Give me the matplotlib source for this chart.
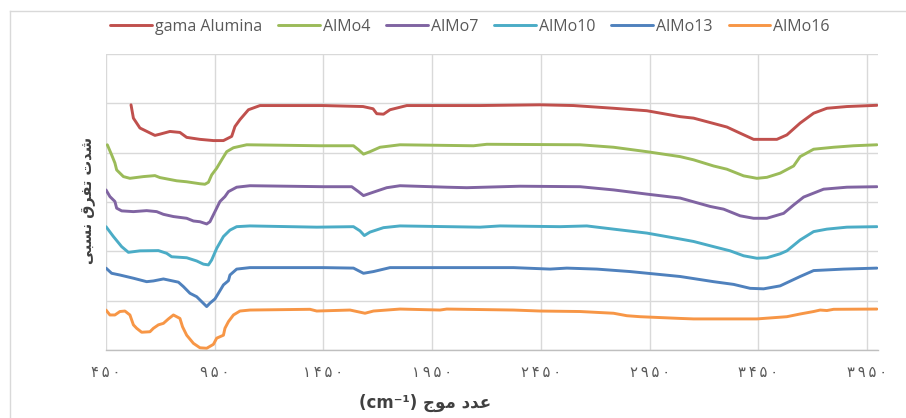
import matplotlib
matplotlib.use("Agg")
import matplotlib.pyplot as plt
from matplotlib.lines import Line2D

# ---------------- data ----------------
series_names = ["gama Alumina", "AlMo4", "AlMo7", "AlMo10", "AlMo13", "AlMo16"]
series_colors = ["#C0504D", "#9BBB59", "#8064A2", "#4BACC6", "#4F81BD", "#F79646"]

wn_gama = [565, 576, 606, 652, 675, 698, 744, 790, 821, 882, 944, 990, 1028, 1043, 1066, 1105, 1158,
           1448, 1632, 1678, 1695, 1726, 1756, 1833, 2170, 2446, 2600, 2784, 2937, 3090, 3152, 3305,
           3366, 3428, 3535, 3581, 3642, 3704, 3765, 3857, 3995]
val_gama = [4.97, 4.70, 4.50, 4.40, 4.35, 4.375, 4.43, 4.41, 4.31, 4.27, 4.245, 4.245, 4.33, 4.53, 4.67,
            4.87, 4.955, 4.955, 4.935, 4.89, 4.79, 4.78, 4.87, 4.955, 4.955, 4.97, 4.955, 4.90, 4.85,
            4.73, 4.70, 4.52, 4.395, 4.27, 4.27, 4.36, 4.60, 4.80, 4.90, 4.935, 4.96]

wn_almo4 = [456, 476, 491, 499, 530, 560, 622, 675, 698, 775, 821, 882, 905, 921, 936, 959, 982, 1005,
            1036, 1097, 1434, 1588, 1611, 1634, 1664, 1710, 1802, 2140, 2201, 2630, 2784, 2937, 3090,
            3152, 3244, 3305, 3382, 3443, 3489, 3550, 3612, 3642, 3704, 3796, 3888, 3995]
val_almo4 = [4.16, 3.955, 3.79, 3.65, 3.515, 3.48, 3.515, 3.535, 3.495, 3.43, 3.41, 3.37, 3.36, 3.40,
             3.55, 3.685, 3.855, 4.02, 4.10, 4.16, 4.14, 4.14, 4.06, 3.97, 4.02, 4.11, 4.16, 4.14, 4.17,
             4.16, 4.11, 4.02, 3.92, 3.855, 3.73, 3.665, 3.53, 3.48, 3.50, 3.585, 3.73, 3.92, 4.07,
             4.11, 4.14, 4.16]

wn_almo7 = [450, 468, 491, 499, 522, 576, 637, 683, 714, 760, 821, 852, 882, 913, 928, 951, 974, 997,
            1013, 1051, 1112, 1450, 1580, 1611, 1634, 1680, 1741, 1802, 2017, 2109, 2354, 2630, 2784,
            2937, 3090, 3228, 3290, 3366, 3428, 3489, 3566, 3612, 3658, 3750, 3857, 3995]
val_almo7 = [3.245, 3.11, 3.01, 2.875, 2.82, 2.805, 2.825, 2.805, 2.75, 2.705, 2.67, 2.615, 2.60, 2.555,
             2.60, 2.805, 3.01, 3.11, 3.21, 3.30, 3.33, 3.31, 3.31, 3.21, 3.13, 3.20, 3.29, 3.33, 3.30,
             3.29, 3.32, 3.31, 3.245, 3.16, 3.08, 2.91, 2.855, 2.72, 2.67, 2.67, 2.77, 2.94, 3.10, 3.26,
             3.30, 3.31]

wn_almo10 = [450, 484, 522, 553, 606, 691, 729, 752, 821, 867, 898, 921, 936, 959, 990, 1020, 1051,
             1112, 1419, 1588, 1618, 1638, 1664, 1726, 1802, 2170, 2262, 2538, 2661, 2784, 2937, 3090,
             3152, 3244, 3320, 3382, 3443, 3489, 3550, 3581, 3642, 3704, 3765, 3857, 3995]
val_almo10 = [2.50, 2.30, 2.095, 1.98, 2.01, 2.015, 1.96, 1.89, 1.87, 1.805, 1.74, 1.725, 1.825, 2.06,
              2.30, 2.43, 2.50, 2.515, 2.49, 2.50, 2.415, 2.32, 2.39, 2.48, 2.515, 2.49, 2.515, 2.50,
              2.515, 2.45, 2.37, 2.25, 2.20, 2.095, 2.01, 1.91, 1.86, 1.87, 1.95, 2.01, 2.23, 2.40, 2.45,
              2.49, 2.50]

wn_almo13 = [450, 476, 514, 576, 637, 668, 714, 783, 806, 836, 867, 890, 913, 928, 951, 967, 990, 1013,
             1020, 1051, 1112, 1450, 1588, 1634, 1680, 1756, 2324, 2492, 2569, 2707, 2860, 3090, 3244,
             3336, 3412, 3474, 3550, 3642, 3704, 3842, 3995]
val_almo13 = [1.66, 1.555, 1.52, 1.455, 1.385, 1.40, 1.44, 1.375, 1.285, 1.15, 1.08, 0.98, 0.88, 0.95,
              1.035, 1.15, 1.32, 1.405, 1.52, 1.64, 1.67, 1.67, 1.66, 1.555, 1.59, 1.67, 1.67, 1.64,
              1.66, 1.64, 1.59, 1.49, 1.385, 1.33, 1.25, 1.24, 1.30, 1.49, 1.61, 1.64, 1.66]

wn_almo16 = [450, 468, 491, 514, 537, 560, 576, 591, 614, 652, 668, 691, 714, 737, 760, 790, 802, 821,
             852, 882, 913, 944, 959, 990, 997, 1013, 1036, 1066, 1112, 1388, 1419, 1572, 1641, 1680,
             1802, 1986, 2017, 2324, 2446, 2630, 2784, 2845, 2906, 3090, 3152, 3443, 3581, 3642, 3704,
             3734, 3765, 3796, 3995]
val_almo16 = [0.81, 0.71, 0.71, 0.78, 0.79, 0.71, 0.51, 0.44, 0.36, 0.37, 0.44, 0.51, 0.54, 0.63, 0.71,
              0.64, 0.47, 0.30, 0.135, 0.045, 0.035, 0.115, 0.24, 0.30, 0.44, 0.575, 0.71, 0.79, 0.81,
              0.825, 0.79, 0.81, 0.745, 0.79, 0.83, 0.81, 0.83, 0.81, 0.79, 0.78, 0.745, 0.695, 0.675,
              0.64, 0.63, 0.63, 0.675, 0.73, 0.78, 0.81, 0.80, 0.825, 0.83]

x_ticks = [450, 950, 1450, 1950, 2450, 2950, 3450, 3950]
x_tick_labels = ["۴۵۰", "۹۵۰", "۱۴۵۰", "۱۹۵۰", "۲۴۵۰", "۲۹۵۰", "۳۴۵۰", "۳۹۵۰"]
y_grid = [0, 1, 2, 3, 4, 5, 6]

# Persian labels written in visual (left-to-right) order with presentation forms
x_label = "(cm\u207b\u00b9) \uFE9D\uFEEE\uFEE3 \uFEA9\uFEAA\uFECB"          # عدد موج (cm-1)
y_label = "\uFEF0\uFE92\uFEB4\uFEE7 \uFED5\uFEAE\uFED4\uFE97 \uFE95\uFEAA\uFEB7"  # شدت تفرق نسبی

xs = [wn_gama, wn_almo4, wn_almo7, wn_almo10, wn_almo13, wn_almo16]
ys = [val_gama, val_almo4, val_almo7, val_almo10, val_almo13, val_almo16]

# ---------------- figure ----------------
W, H = 906, 418
fig = plt.figure(figsize=(W / 100, H / 100), dpi=100)
ax = fig.add_axes([106 / W, (H - 350) / H, (878 - 106) / W, (350 - 54) / H])

for x, y, name, c in zip(xs, ys, series_names, series_colors):
    ax.plot(x, y, color=c, lw=2.1, label=name, solid_capstyle="round", solid_joinstyle="round")

ax.set_xlim(450, 4000)
ax.set_ylim(0, 6)
ax.set_xticks(x_ticks)
spaced_labels = ["\u2009".join(lbl) for lbl in x_tick_labels]
ax.set_xticklabels(spaced_labels, family=["DejaVu Sans"], fontsize=10.5, color="#595959")
ax.set_yticks(y_grid)
ax.set_yticklabels([])
ax.tick_params(axis="both", length=0)
ax.tick_params(axis="x", pad=11)
ax.grid(True, color="#d9d9d9", lw=1.0)
ax.set_axisbelow(True)
for s in ["top", "right", "left"]:
    ax.spines[s].set_visible(False)
ax.spines["bottom"].set_color("#bfbfbf")
ax.spines["bottom"].set_linewidth(1.0)

fig.text(425 / W, 1 - 403 / H, x_label, ha="center", va="center", fontsize=12,
         fontweight="bold", color="#404040", family=["DejaVu Sans"])
fig.text(88 / W, 1 - 200 / H, y_label, ha="center", va="center", rotation=90, fontsize=10.5,
         fontweight="bold", color="#404040", family=["DejaVu Sans"])

leg = fig.legend(loc="center", bbox_to_anchor=(470 / W, 1 - 27 / H), ncol=6, frameon=False,
                 prop={"family": "Open Sans", "size": 11.5}, handlelength=2.6,
                 handletextpad=0.2, columnspacing=1.0)
for t in leg.get_texts():
    t.set_color("#595959")

# chart-area border
fig.add_artist(Line2D([10 / W, 10 / W], [0, 1 - 11 / H], transform=fig.transFigure,
                      color="#d9d9d9", lw=1.0))
fig.add_artist(Line2D([10 / W, 1], [1 - 11 / H, 1 - 11 / H], transform=fig.transFigure,
                      color="#d9d9d9", lw=1.0))

fig.savefig("out.png", dpi=100)
